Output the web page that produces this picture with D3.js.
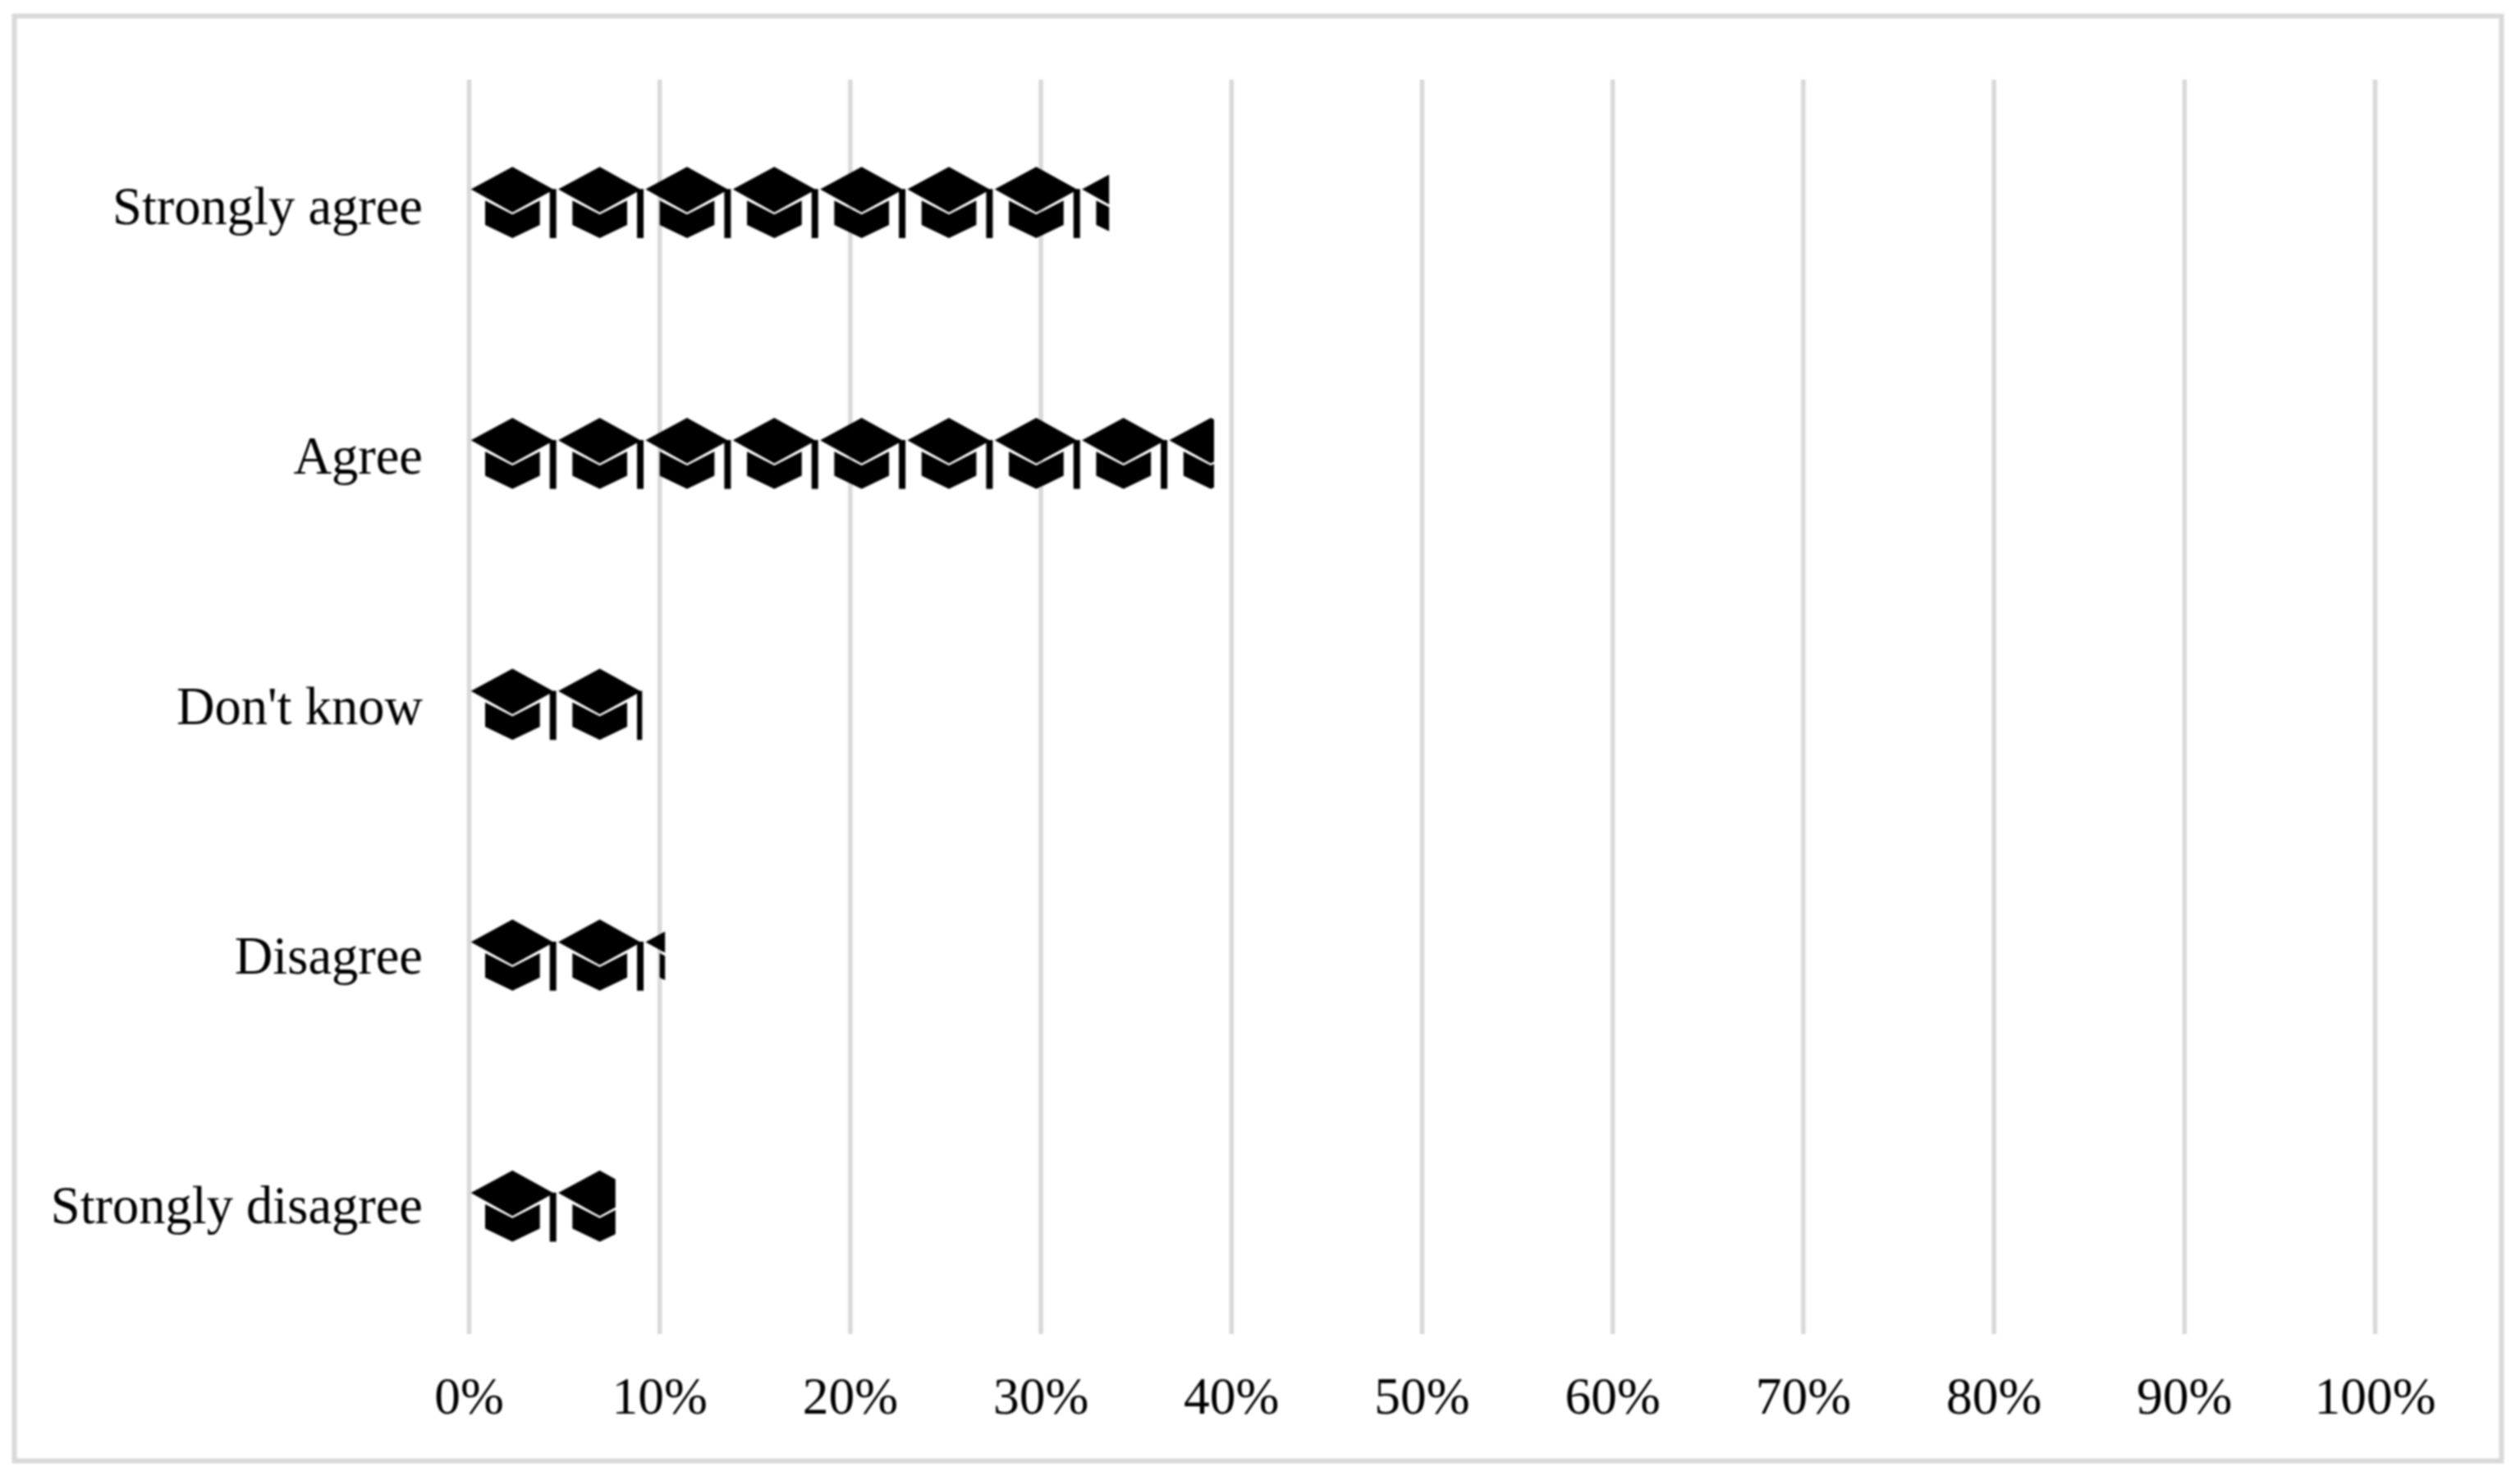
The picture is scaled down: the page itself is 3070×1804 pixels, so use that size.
<!DOCTYPE html>
<html>
<head>
<meta charset="utf-8">
<script src="https://cdn.jsdelivr.net/npm/d3@7"></script>
<style>
html,body{margin:0;padding:0;background:#fff;}
svg{display:block;filter:blur(0.9px);}
text{font-family:"Liberation Serif","Times New Roman",serif;}
</style>
</head>
<body>
<div id="chart"></div>
<script>
const categories = ["Strongly agree","Agree","Don't know","Disagree","Strongly disagree"];
const values = [33.6,39.1,9.1,10.3,7.7];
const xTickValues = [0,10,20,30,40,50,60,70,80,90,100];
const iconUnit = 4.58;

const width = 3070, height = 1804;
const svg = d3.select("#chart").append("svg").attr("width",width).attr("height",height);
const defs = svg.append("defs");

svg.append("rect").attr("x",17.5).attr("y",19.5).attr("width",3030).attr("height",1760)
  .attr("fill","#fff").attr("stroke","#d9d9d9").attr("stroke-width",6);

const x = d3.scaleLinear().domain([0,100]).range([571,2893]);
const y = d3.scaleBand().domain(categories).range([97,1625]);
const yLabel = d3.scaleBand().domain(categories).range([120.9,1642.1]);

const xAxis = svg.append("g").attr("transform","translate(0,1625)")
  .call(d3.axisBottom(x).tickValues(xTickValues).tickFormat(d=>d+"%").tickSize(-1528).tickPadding(52));
xAxis.select(".domain").remove();
xAxis.selectAll("line").attr("stroke","#d9d9d9").attr("stroke-width",5.5);
xAxis.selectAll("text").attr("font-size",63.5).attr("fill","#000");

const yAxis = svg.append("g").attr("transform","translate(571,0)")
  .call(d3.axisLeft(yLabel).tickSize(0).tickPadding(56));
yAxis.select(".domain").remove();
yAxis.selectAll("text").attr("font-size",64.5).attr("fill","#000").attr("dy",0);

const capPath = "M2.7,27.3 L53.3,0 L102.7,27.3 L98.7,30.5 L53.3,55.5 Z"
  + " M98.7,27 H106.7 V86.7 H98.7 Z"
  + " M20,41 L53.3,58 L86.7,41 V70.7 L53.3,86.7 L20,70.7 Z";

const rows = svg.append("g").selectAll("g").data(categories).join("g");
rows.each(function(c,i){
  const g = d3.select(this);
  const top = y(c) + y.bandwidth()/2 - 46.5;
  const id = "clip"+i;
  defs.append("clipPath").attr("id",id).append("rect")
    .attr("x",x(0)).attr("y",top-5).attr("width",x(values[i])-x(0)).attr("height",100);
  const n = Math.ceil(values[i]/iconUnit);
  g.append("g").attr("clip-path",`url(#${id})`)
    .selectAll("path").data(d3.range(n)).join("path")
    .attr("d",capPath).attr("fill","#000")
    .attr("transform",k=>`translate(${x(k*iconUnit)},${top})`);
});
</script>
</body>
</html>
